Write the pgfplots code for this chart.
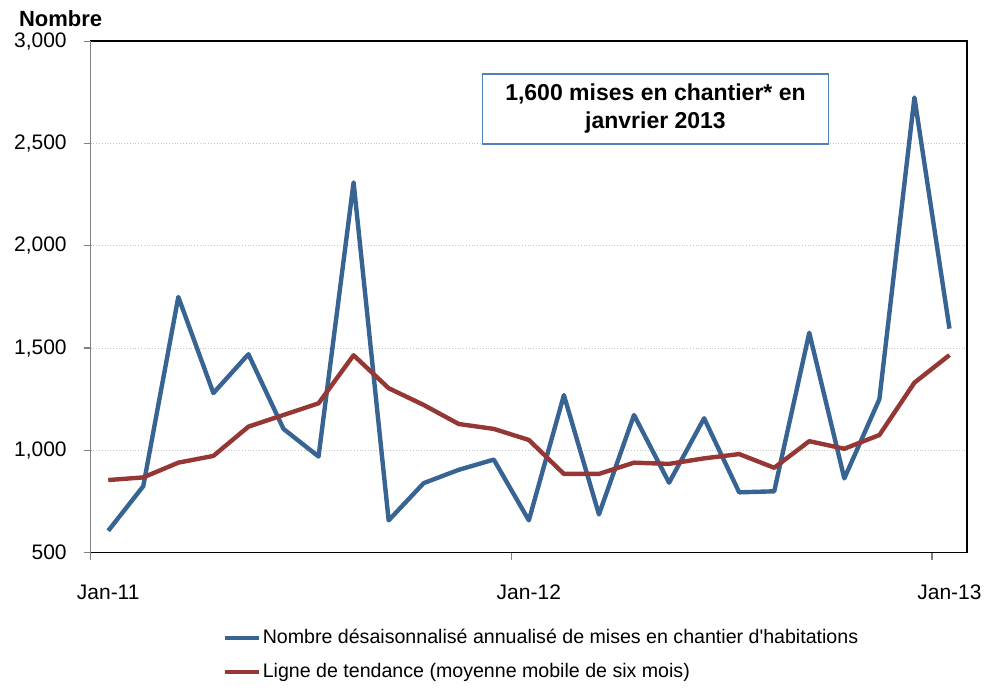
\documentclass[border=0pt]{standalone}
\usepackage{pgfplots}
\pgfplotsset{compat=1.18}
\usepackage{fontspec}
\setmainfont{Liberation Sans}
\definecolor{serblue}{HTML}{386494}
\definecolor{serred}{HTML}{953735}
\definecolor{boxblue}{HTML}{4F81BD}
\begin{document}
\begin{tikzpicture}
\useasboundingbox (0,0) rectangle (495pt,344pt);
\begin{axis}[
  at={(45.35pt,67.65pt)}, anchor=south west,
  scale only axis, width=438.15pt, height=255.75pt,
  xmin=-0.5, xmax=24.5, ymin=500, ymax=3000,
  xtick={-0.5,11.5,23.5}, xticklabels={},
  extra x ticks={0,12,24},
  extra x tick labels={Jan-11,Jan-12,Jan-13},
  extra x tick style={major tick length=0pt, xticklabel style={yshift=-12.5pt}},
  ytick={500,1000,1500,2000,2500,3000},
  yticklabels={500,{1,000},{1,500},{2,000},{2,500},{3,000}},
  yticklabel style={xshift=-5pt},
  xtick pos=left, ytick pos=left,
  tick align=outside, major tick length=3.5pt,
  tick style={gray, line width=0.6pt},
  ticklabel style={font=\fontsize{10.5}{12}\selectfont},
  ymajorgrids, grid style={densely dotted, gray!45, line width=0.4pt},
  axis line style={black, line width=0.8pt},
  legend style={at={(0.143,-0.137)}, anchor=north west, draw=none, fill=none,
    font=\fontsize{9.8}{11.5}\selectfont, row sep=6.5pt,
    nodes={inner sep=1pt}},
  legend cell align=left,
  legend image code/.code={\draw[#1] (0pt,0pt) -- (17pt,0pt);},
  clip=false,
]
\addplot[serblue, line width=2.2pt, line join=round] coordinates {
(0,607) (1,825) (2,1750) (3,1280) (4,1470) (5,1105) (6,970) (7,2310)
(8,658) (9,840) (10,905) (11,955) (12,658) (13,1270) (14,687) (15,1173)
(16,842) (17,1157) (18,795) (19,800) (20,1575) (21,863) (22,1250) (23,2725) (24,1595)};
\addlegendentry{Nombre désaisonnalisé annualisé de mises en chantier d\textquotesingle habitations}
\addplot[serred, line width=2.2pt, line join=round] coordinates {
(0,855) (1,868) (2,940) (3,973) (4,1116) (5,1173) (6,1230) (7,1465)
(8,1304) (9,1222) (10,1129) (11,1105) (12,1051) (13,885) (14,885) (15,940)
(16,934) (17,961) (18,982) (19,915) (20,1045) (21,1008) (22,1075) (23,1331) (24,1466)};
\addlegendentry{Ligne de tendance (moyenne mobile de six mois)}
\draw[gray, line width=0.8pt] (rel axis cs:0,0) -- (rel axis cs:0,1);
\node[anchor=base west, font=\fontsize{11}{13}\selectfont\bfseries]
  at (axis description cs:-0.0898,1.0278) {Nombre};
\node[draw=boxblue, line width=0.6pt, fill=white, minimum width=173pt, minimum height=35pt,
  align=center, font=\fontsize{11.5}{14}\selectfont\bfseries]
  at (axis description cs:0.6445,0.8674) {1,600 mises en chantier* en\\janvrier 2013};
\end{axis}
\end{tikzpicture}
\end{document}
